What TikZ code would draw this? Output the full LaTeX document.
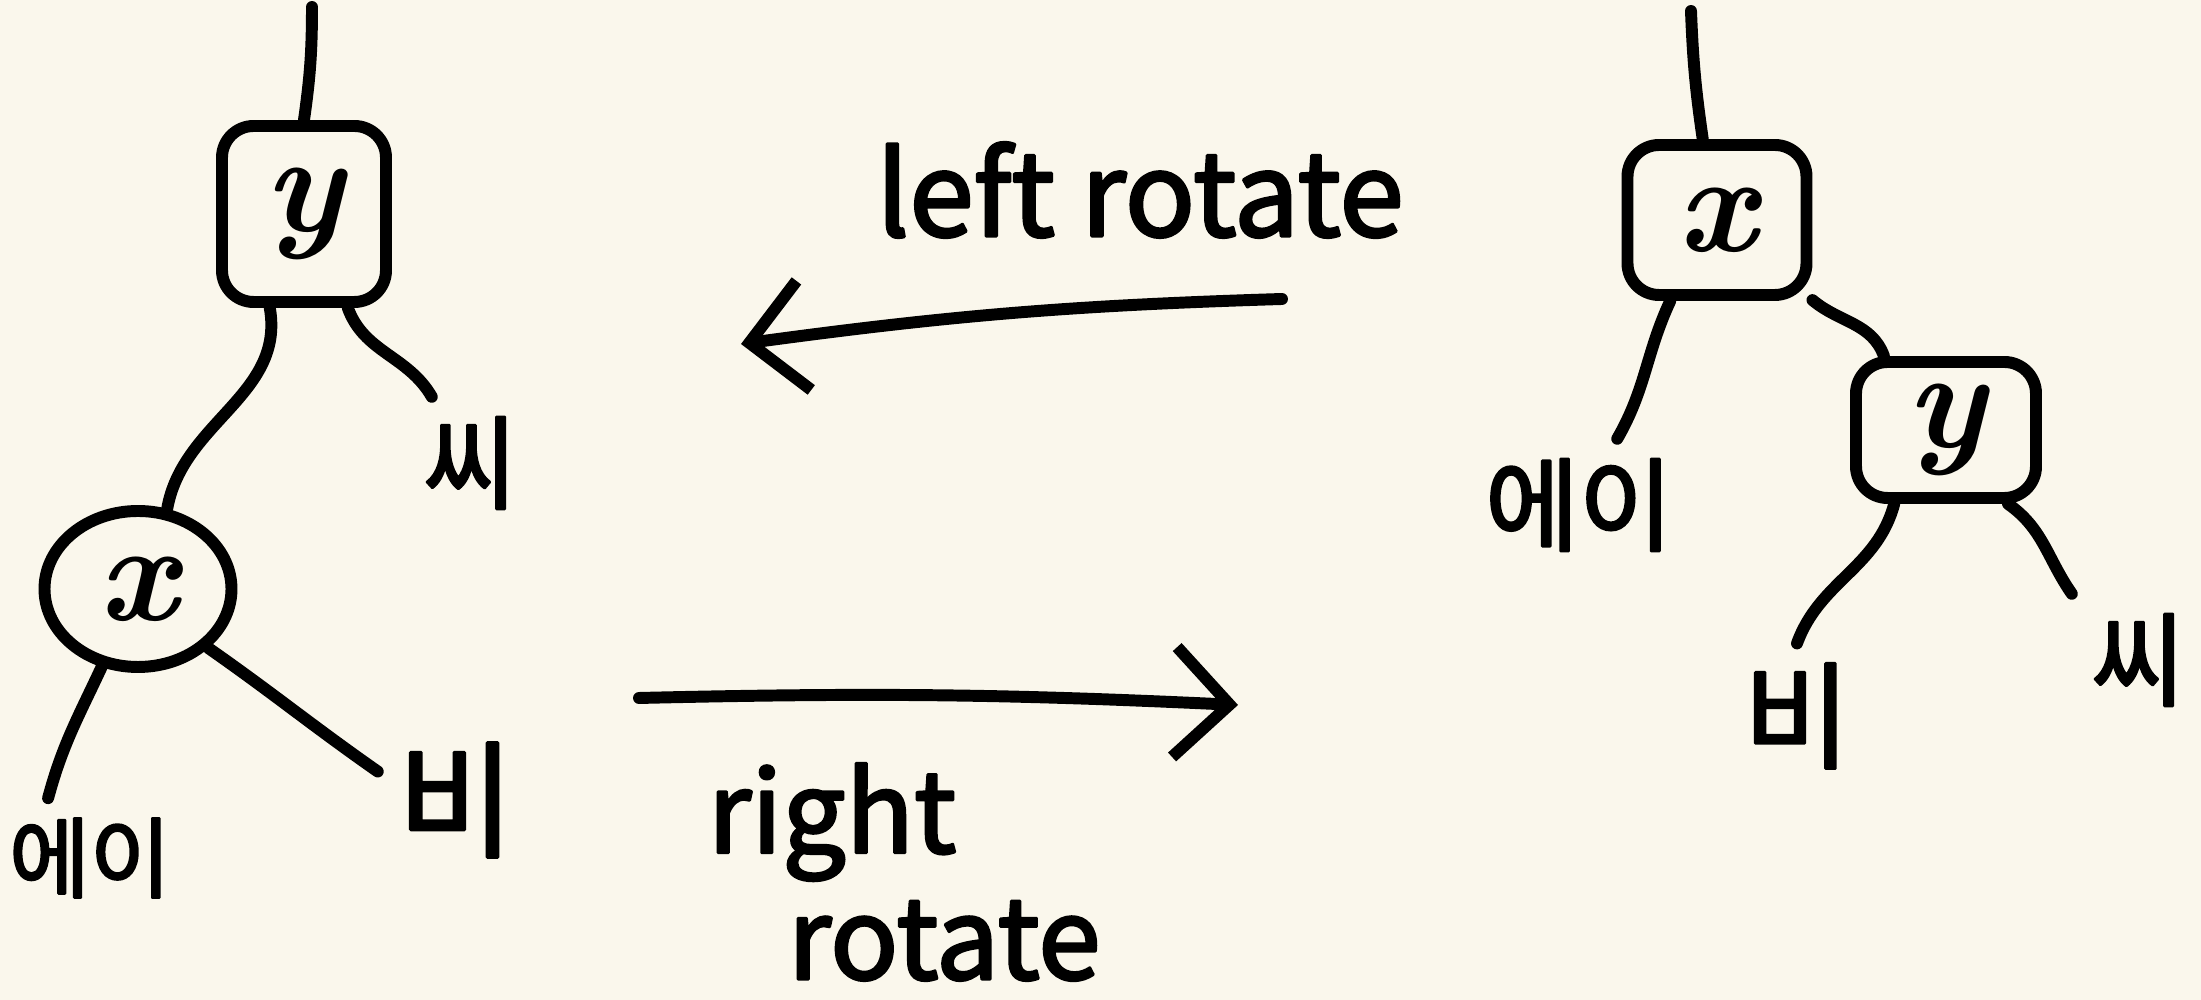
\documentclass[tikz,border=0pt]{standalone}
\usepackage{fontspec}
\newfontfamily\handfont{Noto Sans CJK KR}[AutoFakeBold=2.5]
\usepackage{tikz}
\usetikzlibrary{arrows.meta,positioning,shapes.geometric}
\definecolor{paper}{RGB}{250,247,236}

\begin{document}
\begin{tikzpicture}[line width=3.4pt, line cap=round, line join=round,
    keybox/.style={draw, rounded corners=9pt, inner sep=0pt, font=\fontsize{40}{44}\selectfont\bfseries\itshape},
    keycirc/.style={draw, ellipse, inner sep=0pt, font=\fontsize{40}{44}\selectfont\bfseries\itshape},
    sub/.style={font=\handfont\bfseries\fontsize{29}{32}\selectfont, inner sep=4pt},
    rot/.style={font=\handfont\bfseries\fontsize{32}{36}\selectfont, align=left},
    rotarrow/.style={-{Straight Barb[length=5.5mm, width=11mm]}}]
    \useasboundingbox (0,0) rectangle (22.01,-10);
    \fill[paper] (0,0) rectangle (22.01,-10);

    \coordinate (rootL) at (3.12,-0.07);
    \node (yL) [keybox, minimum width=16.4mm, minimum height=17.6mm] at (3.04,-2.14) {y};
    \node (xL) [keycirc, minimum width=18.7mm, minimum height=15.6mm] at (1.38,-5.89) {x};
    \node (cL) [sub] at (4.70,-4.63) {씨};
    \node (aL) [sub, font=\handfont\bfseries\fontsize{25}{28}\selectfont] at (0.90,-8.58) {에이};
    \node (bL) [sub, font=\handfont\bfseries\fontsize{36}{40}\selectfont] at (4.56,-8.00) {비};

    \coordinate (rootR) at (16.91,-0.11);
    \node (xR) [keybox, minimum width=17.9mm, minimum height=15mm] at (17.17,-2.20) {x};
    \node (aR) [sub] at (15.79,-5.05) {에이};
    \node (yR) [keybox, minimum width=18mm, minimum height=13.6mm] at (19.46,-4.30) {y};
    \node (bR) [sub, font=\handfont\bfseries\fontsize{33}{36}\selectfont] at (17.97,-7.16) {비};
    \node (cR) [sub] at (21.38,-6.60) {씨};

    \node (leftRot) [rot, font=\handfont\bfseries\fontsize{33}{36}\selectfont] at (11.40,-1.90) {left rotate};
    \node (rightRot) [rot, anchor=west] at (6.90,-8.72) {right\\\hspace*{8mm}rotate};
    \coordinate (lrFrom) at (12.82,-2.99);
    \coordinate (lrTo) at (7.41,-3.44);
    \coordinate (rrFrom) at (6.39,-6.98);
    \coordinate (rrTo) at (12.38,-7.05);

    \draw (rootL) to[bend left=4] (yL.north);
    \draw (yL.250) to[out=-80, in=80] (xL.70);
    \draw (yL.295) to[out=-70, in=120] (cL);
    \draw (xL.245) to[out=-115, in=75] (aL.125);
    \draw (xL.320) to[out=-35, in=145] (bL.160);

    \draw (rootR) to[bend right=3] (xR.100);
    \draw (xR.240) to[out=-115, in=60] (aR.60);
    \draw (xR.320) to[out=-40, in=110] (yR.130);
    \draw (yR.235) to[out=-105, in=70] (bR.north);
    \draw (yR.310) to[out=-35, in=125] (cR.135);

    \draw[rotarrow] (lrFrom) to[bend right=3] (lrTo);
    \draw[rotarrow] (rrFrom) to[bend left=2] (rrTo);
\end{tikzpicture}
\end{document}
